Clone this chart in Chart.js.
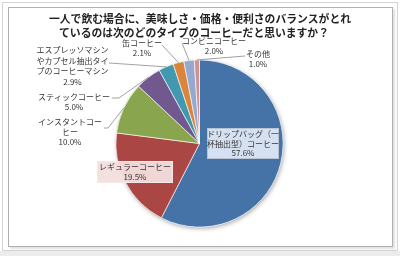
<!DOCTYPE html>
<html lang="ja">
<head>
<meta charset="utf-8">
<title>コーヒーのタイプ</title>
<script src="https://cdn.jsdelivr.net/npm/chart.js"></script>
<style>
    body { margin: 0; background: #fff; }
    #wrap { position: relative; width: 400px; height: 256px; overflow: hidden; }
    #outer { position: absolute; left: 2px; top: 2px; width: 394px; height: 247px; border: 1px solid #d4d4d4; background: #fff; }
    #band { position: absolute; left: 0; top: 251px; width: 400px; height: 5px; background: #ececec; }
    #inner { position: absolute; left: 8px; top: 7px; width: 383px; height: 238px; border: 1px solid #b0b0b0; background: #fff; box-shadow: 2px 2px 2px rgba(0,0,0,0.12); }
    canvas { position: absolute; left: 0; top: 0; }
</style>
</head>
<body>
<div id="wrap">
    <div id="band"></div>
    <div id="outer"></div>
    <div id="inner"></div>
    <canvas id="pie" width="400" height="256"></canvas>
</div>
<script>
    // データ
    const titleLines = [
        '一人で飲む場合に、美味しさ・価格・便利さのバランスがとれ',
        'ているのは次のどのタイプのコーヒーだと思いますか？'
    ];
    const categories = [
        'ドリップバッグ（一\n杯抽出型）コーヒー',
        'レギュラーコーヒー',
        'インスタントコー\nヒー',
        'スティックコーヒー',
        'エスプレッソマシン\nやカプセル抽出タイ\nプのコーヒーマシン',
        '缶コーヒー',
        'コンビニコーヒー',
        'その他'
    ];
    const values = [57.6, 19.5, 10.0, 5.0, 2.9, 2.1, 2.0, 1.0];
    const colors = ['#4572A7', '#AA4643', '#89A54E', '#71588F', '#4198AF', '#DB843D', '#93A9CF', '#D19392'];

    // ラベルの配置 (中心x, 1行目y, 行間, 枠, 引き出し線)
    const labelPos = [
        { x: 243, y: 134, lh: 9.5, box: [207, 128, 72, 31, 'rgba(221,231,243,0.95)', '#b8c4d4'] },
        { x: 135, y: 167, lh: 10, box: [97, 161, 76, 22, 'rgba(244,222,222,0.95)', '#f6e8e8'] },
        { x: 70, y: 122, lh: 10, lead: [[104, 128], [108, 128]] },
        { x: 74, y: 97, lh: 10, lead: [[112, 98], [119, 98]] },
        { x: 72.5, y: 50, lh: 10.5, lead: [[109, 63]] },
        { x: 142, y: 42.5, lh: 10.5, lead: [[162, 45]] },
        { x: 214, y: 41, lh: 10, lead: [[182, 43]] },
        { x: 258, y: 54, lh: 9.5, lead: [[245, 56]] }
    ];

    const fontFamily = '"Noto Sans CJK JP", "Noto Sans", sans-serif';

    const pieShadow = {
        id: 'pieShadow',
        beforeDatasetsDraw(chart) {
            const arc = chart.getDatasetMeta(0).data[0];
            if (!arc) return;
            const { x, y, outerRadius } = arc.getProps(['x', 'y', 'outerRadius'], true);
            const ctx = chart.ctx;
            ctx.save();
            ctx.shadowColor = 'rgba(0,0,0,0.35)';
            ctx.shadowBlur = 4;
            ctx.shadowOffsetX = 1;
            ctx.shadowOffsetY = 1.5;
            ctx.fillStyle = '#fff';
            ctx.beginPath();
            ctx.arc(x, y, outerRadius, 0, Math.PI * 2);
            ctx.fill();
            ctx.restore();
        }
    };

    const pieLabels = {
        id: 'pieLabels',
        afterDatasetsDraw(chart) {
            const ctx = chart.ctx;
            const meta = chart.getDatasetMeta(0);
            ctx.save();

            // タイトル
            ctx.fillStyle = '#222';
            ctx.font = 'bold 10.8px ' + fontFamily;
            ctx.textAlign = 'center';
            ctx.textBaseline = 'middle';
            ctx.fillText(titleLines[0], 200, 19);
            ctx.fillText(titleLines[1], 194, 33);

            meta.data.forEach((arc, i) => {
                const p = labelPos[i];
                const { x, y, startAngle, endAngle, outerRadius } =
                    arc.getProps(['x', 'y', 'startAngle', 'endAngle', 'outerRadius'], true);
                const mid = (startAngle + endAngle) / 2;
                const px = x + Math.cos(mid) * outerRadius;
                const py = y + Math.sin(mid) * outerRadius;

                if (p.lead) {
                    ctx.strokeStyle = '#8a8a8a';
                    ctx.lineWidth = 0.8;
                    ctx.beginPath();
                    ctx.moveTo(p.lead[0][0], p.lead[0][1]);
                    p.lead.slice(1).forEach(q => ctx.lineTo(q[0], q[1]));
                    ctx.lineTo(px, py);
                    ctx.stroke();
                }
                if (p.box) {
                    const [bx, by, bw, bh, fill, line] = p.box;
                    ctx.fillStyle = fill;
                    ctx.fillRect(bx, by, bw, bh);
                    ctx.strokeStyle = line;
                    ctx.lineWidth = 1;
                    ctx.strokeRect(bx + 0.5, by + 0.5, bw - 1, bh - 1);
                }

                const lines = categories[i].split('\n');
                lines.push(values[i].toFixed(1) + '%');
                ctx.fillStyle = '#333';
                ctx.font = '8px ' + fontFamily;
                lines.forEach((t, k) => ctx.fillText(t, p.x, p.y + k * p.lh));
            });
            ctx.restore();
        }
    };

    new Chart(document.getElementById('pie'), {
        type: 'pie',
        data: {
            labels: categories,
            datasets: [{
                data: values,
                backgroundColor: colors,
                borderColor: 'rgba(255,255,255,0.8)',
                borderWidth: 0.8
            }]
        },
        options: {
            responsive: false,
            animation: false,
            layout: { padding: { left: 115.5, right: 116.5, top: 59.5, bottom: 28.5 } },
            plugins: {
                legend: { display: false },
                tooltip: { enabled: false }
            }
        },
        plugins: [pieShadow, pieLabels]
    });
</script>
</body>
</html>
